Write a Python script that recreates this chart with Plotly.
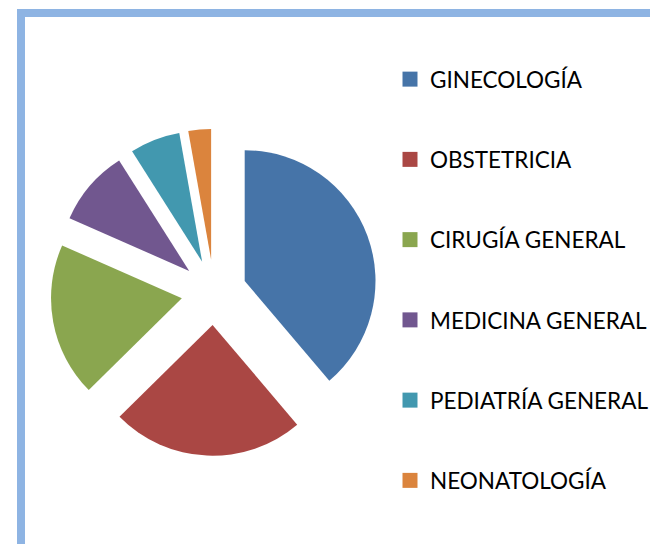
import plotly.graph_objects as go

labels = ["GINECOLOGÍA", "OBSTETRICIA", "CIRUGÍA GENERAL", "MEDICINA GENERAL",
          "PEDIATRÍA GENERAL", "NEONATOLOGÍA"]
values = [38.8, 23.8, 19.0, 9.4, 6.2, 2.8]
colors = ["#4674A8", "#AA4744", "#8AA64F", "#71578F", "#4298AF", "#DB843D"]

W, H = 658, 544
OFF = 8  # page body margin

fig = go.Figure()
fig.add_trace(go.Pie(
    labels=labels, values=values, sort=False, direction="clockwise", rotation=0,
    pull=[0.25] * len(values), marker=dict(colors=colors, line=dict(width=0)),
    textinfo="none", hoverinfo="label+percent", showlegend=False,
    domain=dict(x=[(50.5 - OFF) / W, (377.5 - OFF) / W],
                y=[1 - (456 - OFF) / H, 1 - (128.5 - OFF) / H]),
))
for lab, col in zip(labels, colors):
    fig.add_trace(go.Scatter(
        x=[None], y=[None], mode="markers", name=lab, legendgroup=lab,
        marker=dict(symbol="square", size=15, color=col), showlegend=True,
    ))

fig.update_layout(
    width=W, height=H, margin=dict(l=0, r=0, t=0, b=0),
    paper_bgcolor="white", plot_bgcolor="white",
    xaxis=dict(visible=False), yaxis=dict(visible=False),
    font=dict(family="Lato, Open Sans, sans-serif", size=22.5, color="#000000"),
    legend=dict(x=(392 - OFF - 2) / W, y=1 - (58 - OFF) / H, xanchor="left", yanchor="top",
                tracegroupgap=48, itemclick=False,
                font=dict(size=22.5), bgcolor="rgba(0,0,0,0)"),
    shapes=[
        dict(type="line", xref="paper", yref="paper", x0=(21 - OFF) / W, x1=(21 - OFF) / W,
             y0=0, y1=1 - (13 - OFF) / H, line=dict(color="#8EB4E3", width=8)),
        dict(type="line", xref="paper", yref="paper", x0=(17 - OFF) / W, x1=1,
             y0=1 - (13 - OFF) / H, y1=1 - (13 - OFF) / H, line=dict(color="#8EB4E3", width=8)),
    ],
)
fig.write_html("out.html")
